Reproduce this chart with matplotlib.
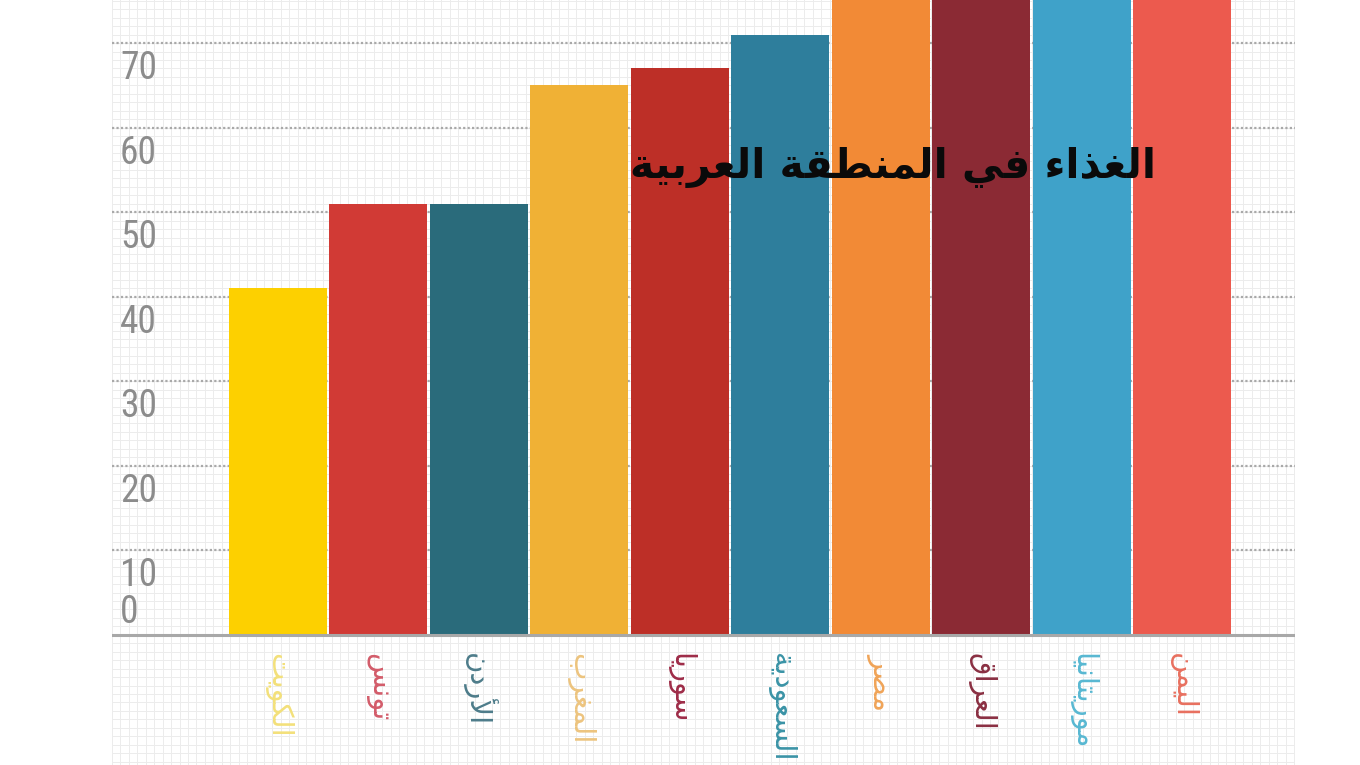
import numpy as np
import matplotlib.pyplot as plt
from matplotlib import font_manager

# data (last four bars run past the top edge)
countries = ["الكويت", "تونس", "الأردن", "المغرب", "سوريا",
             "السعودية", "مصر", "العراق", "موريتانيا", "اليمن"]
values = [41, 51, 51, 65, 67, 71, 78, 80, 82, 85]
bar_colors = ["#FDD000", "#D13A35", "#2A6B7B", "#F0B135", "#BD2F27",
              "#2E7E9C", "#F28A36", "#8B2A34", "#3FA2C9", "#EC5A4E"]
label_colors = ["#F3E07A", "#D35C6A", "#4D7C8A", "#EDC47E", "#9E2C48",
                "#3A93A6", "#F0A458", "#8A2F42", "#58B8D2", "#E8705F"]
y_ticks = [0, 10, 20, 30, 40, 50, 60, 70]
title = "الغذاء في المنطقة العربية"


# tiny arabic shaper: presentation forms + right-to-left order
DUAL = {'ب': 0xFE8F, 'ت': 0xFE95, 'س': 0xFEB1, 'ص': 0xFEB9, 'ط': 0xFEC1,
        'ع': 0xFEC9, 'غ': 0xFECD, 'ف': 0xFED1, 'ق': 0xFED5, 'ك': 0xFED9,
        'ل': 0xFEDD, 'م': 0xFEE1, 'ن': 0xFEE5, 'ي': 0xFEF1}
RIGHT = {'ا': 0xFE8D, 'أ': 0xFE83, 'د': 0xFEA9, 'ذ': 0xFEAB, 'ر': 0xFEAD,
         'و': 0xFEED, 'ة': 0xFE93}
NONE = {'ء': 0xFE80}
LAMALEF = {'ا': 0xFEFB, 'أ': 0xFEF7}


def shape(text):
    out = []
    i = 0
    n = len(text)
    while i < n:
        c = text[i]
        prev = text[i - 1] if i > 0 else ' '
        joins_prev = prev in DUAL and i > 0
        if c == 'ل' and i + 1 < n and text[i + 1] in LAMALEF:
            base = LAMALEF[text[i + 1]]
            out.append(chr(base + 1 if joins_prev else base))
            i += 2
            continue
        nxt = text[i + 1] if i + 1 < n else ' '
        if c in DUAL:
            joins_next = nxt in DUAL or nxt in RIGHT
            b = DUAL[c]
            if joins_prev and joins_next:
                out.append(chr(b + 3))
            elif joins_prev:
                out.append(chr(b + 1))
            elif joins_next:
                out.append(chr(b + 2))
            else:
                out.append(chr(b))
        elif c in RIGHT:
            b = RIGHT[c]
            out.append(chr(b + 1 if joins_prev else b))
        elif c in NONE:
            out.append(chr(NONE[c]))
        else:
            out.append(c)
        i += 1
    return ''.join(out[::-1])


# narrow font for the numbers if one is around
installed = {f.name for f in font_manager.fontManager.ttflist}
num_font = "DejaVu Sans"
for cand in ["Liberation Sans Narrow", "DejaVu Sans Condensed", "Roboto Condensed"]:
    if cand in installed:
        num_font = cand
        break

fig = plt.figure(figsize=(13.6, 7.65), dpi=100)
ax = fig.add_axes([112 / 1360, 0, (1295 - 112) / 1360, 1])

x = np.arange(len(countries))
x0, x1 = -1.65, 10.12
y0, y1 = -15.4, 75.1
ax.set_xlim(x0, x1)
ax.set_ylim(y0, y1)

# graph paper background
for yy in np.arange(np.floor(y0), y1, 1.0):
    ax.axhline(yy, color="#ECECEC", lw=0.7, zorder=0)
for xx in np.arange(x0, x1, 0.084):
    ax.axvline(xx, color="#ECECEC", lw=0.7, zorder=0)
for v in y_ticks[1:]:
    ax.axhline(v, color="#A9A9A9", lw=1.6, ls=(0, (1, 1)), zorder=1)
ax.axhline(0, color="#A8A8A8", lw=2.2, zorder=3)

ax.bar(x, values, width=0.975, color=bar_colors, zorder=2)

for v in y_ticks:
    ty = v - 3.0 if v > 0 else 2.6
    ax.text(x0 + 0.08, ty, str(v), fontsize=27, color="#8C8C8C",
            family=num_font, fontweight="normal",
            ha="left", va="center", zorder=4)

for xi, name, col in zip(x, countries, label_colors):
    ax.text(xi, -2.2, shape(name), rotation=270, ha="center", va="top",
            fontsize=21, color=col, family="DejaVu Sans", zorder=4)

fig.text(893 / 1360, 1 - 168 / 765, shape(title), ha="center", va="center",
         fontsize=29.5, fontweight="bold", color="#0A0A0A", family="DejaVu Sans")

ax.axis("off")
fig.savefig("out.png", dpi=100)
